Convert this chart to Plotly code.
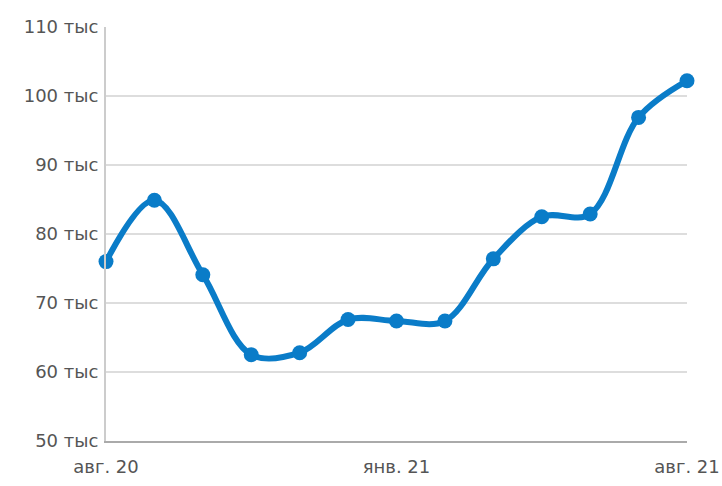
import plotly.graph_objects as go

# point positions (index along the time axis)
points = list(range(13))
values = [76.0, 84.9, 74.1, 62.5, 62.8, 67.6, 67.4, 67.4, 76.4, 82.5, 82.9, 96.9, 102.2]

tick_positions = [0, 6, 12]
tick_labels = ["авг. 20", "янв. 21", "авг. 21"]

y_ticks = [50, 60, 70, 80, 90, 100, 110]
y_tick_labels = [f"{v} тыс" for v in y_ticks]

fig = go.Figure()
fig.add_trace(go.Scatter(
    x=points, y=values, mode="lines+markers",
    line=dict(color="#0a7cc8", width=6, shape="spline", smoothing=1.0),
    marker=dict(color="#0a7cc8", size=15),
    cliponaxis=False, hoverinfo="skip",
))

fig.update_layout(
    width=722, height=486,
    margin=dict(l=106, r=35, t=27, b=45),
    paper_bgcolor="white", plot_bgcolor="white",
    showlegend=False,
    font=dict(family="DejaVu Sans, Liberation Sans, sans-serif", size=18, color="#555555"),
    xaxis=dict(
        range=[0, 12], tickmode="array", tickvals=tick_positions, ticktext=tick_labels,
        showgrid=False, zeroline=False, showline=True, linecolor="#aaaaaa", linewidth=2,
        ticks="", ticklabelstandoff=8, automargin=False,
    ),
    yaxis=dict(
        range=[50, 110], tickmode="array", tickvals=y_ticks, ticktext=y_tick_labels,
        showgrid=True, gridcolor="#dddddd", gridwidth=2, zeroline=False,
        showline=True, linecolor="#cccccc", linewidth=2, ticks="", ticklabelstandoff=2,
        automargin=False,
    ),
)

fig.write_html("out.html")
